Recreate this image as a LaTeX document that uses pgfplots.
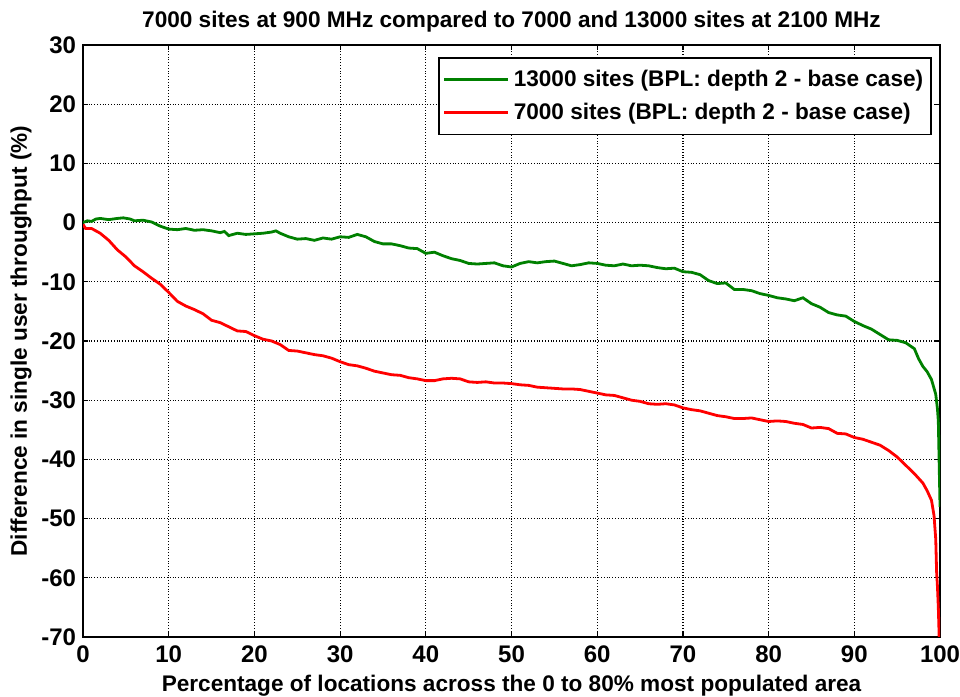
\documentclass[border=0pt]{standalone}
\usepackage{fontspec}
\setmainfont{Liberation Sans}
\usepackage{pgfplots}
\pgfplotsset{compat=1.18}

\definecolor{mlgreen}{rgb}{0,0.5,0}
\definecolor{mlred}{rgb}{1,0,0}

\begin{document}
\begin{tikzpicture}
\begin{axis}[
    scale only axis,
    width=428.5pt,
    height=296pt,
    xmin=0, xmax=100,
    ymin=-70, ymax=30,
    xtick={0,10,...,100},
    ytick={-70,-60,...,30},
    grid=major,
    major grid style={black, densely dotted, line width=0.6pt},
    tick align=inside,
    xtick pos=both, ytick pos=both,
    major tick length=2.5pt,
    axis line style={black, line width=0.8pt},
    tick style={black, line width=0.6pt},
    /pgf/number format/assume math mode=true,
    tick label style={font=\fontsize{12}{14}\selectfont\bfseries},
    xticklabel style={yshift=-1pt},
    label style={font=\fontsize{11.3}{13}\selectfont\bfseries},
    title style={font=\fontsize{11.3}{13}\selectfont\bfseries, yshift=-3pt},
    title={7000 sites at 900 MHz compared to 7000 and 13000 sites at 2100 MHz},
    xlabel={Percentage of locations across the 0 to 80\% most populated area},
    ylabel={Difference in single user throughput (\%)},
    xlabel style={yshift=1pt},
    ylabel style={yshift=-2pt},
    legend style={at={(0.9907,0.9797)}, anchor=north east,
        draw=black, line width=0.8pt, font=\fontsize{11.3}{13}\selectfont\bfseries,
        inner xsep=2pt, inner ysep=4pt, row sep=3pt},
    legend cell align=left,
    legend image code/.code={\draw[#1, line width=1.4pt] (0pt,0pt) -- (32pt,0pt);},
]
\coordinate (bl) at (rel axis cs:-0.0969,-0.0997);
\coordinate (tr) at (rel axis cs:1.0233,1.076);

\addplot[mlgreen, line width=1.4pt] coordinates {
(0,0) (0.5,0.3) (1,0.2) (1.5,0.6) (2,0.7) (3,0.5) (4,0.7) (4.7,0.8) (5.5,0.6) (6,0.3)
(7,0.4) (8,0.1) (9,-0.6) (10,-1.1) (11,-1.2) (12,-1.0) (13,-1.3) (14,-1.2) (15,-1.4)
(16,-1.7) (16.5,-1.5) (17,-2.2) (18,-1.8) (19,-2.0) (20,-1.9) (21,-1.8) (22,-1.6)
(22.5,-1.4) (23,-1.8) (24,-2.4) (25,-2.8) (26,-2.7) (27,-3.0) (28,-2.6) (29,-2.8)
(30,-2.4) (31,-2.5) (32,-2.0) (33,-2.4) (34,-3.2) (35,-3.6) (36,-3.6) (37,-3.9)
(38,-4.3) (39,-4.4) (40,-5.2) (41,-5.0) (42,-5.6) (43,-6.1) (44,-6.4) (45,-6.9)
(46,-7.0) (47,-6.9) (48,-6.8) (49,-7.3) (50,-7.5) (51,-6.9) (52,-6.6) (53,-6.8)
(54,-6.6) (55,-6.5) (56,-6.9) (57,-7.3) (58,-7.1) (59,-6.8) (60,-6.9) (61,-7.2)
(62,-7.3) (63,-7.0) (64,-7.3) (65,-7.2) (66,-7.3) (67,-7.6) (68,-7.8) (69,-7.7)
(70,-8.3) (71,-8.4) (72,-8.8) (73,-9.8) (74,-10.3) (75,-10.2) (76,-11.3) (77,-11.3)
(78,-11.5) (79,-12.0) (80,-12.3) (81,-12.7) (82,-12.9) (83,-13.2) (84,-12.7)
(85,-13.7) (86,-14.3) (87,-15.2) (88,-15.6) (89,-15.8) (90,-16.7) (91,-17.4)
(92,-18.0) (93,-18.9) (94,-19.8) (95,-19.9) (96,-20.3) (97,-21.3) (97.5,-23.0)
(98,-24.3) (98.5,-25.2) (99,-26.5) (99.5,-29.0) (99.7,-31.5) (99.8,-33.5) (100,-48)
};
\addlegendentry{13000 sites (BPL: depth 2 - base case)}

\addplot[mlred, line width=1.4pt] coordinates {
(0,-0.3) (0.3,-1.0) (1,-1.0) (2,-1.8) (3,-3.0) (4,-4.6) (5,-5.8) (6,-7.3) (7,-8.3)
(8,-9.4) (9,-10.4) (10,-11.8) (11,-13.3) (12,-14.1) (13,-14.7) (14,-15.4) (15,-16.5)
(16,-16.9) (17,-17.6) (18,-18.3) (19,-18.4) (20,-19.1) (21,-19.7) (22,-20.0)
(23,-20.6) (24,-21.6) (25,-21.7) (26,-22.0) (27,-22.3) (28,-22.5) (29,-22.9)
(30,-23.5) (31,-24.0) (32,-24.2) (33,-24.6) (34,-25.1) (35,-25.4) (36,-25.7)
(37,-25.8) (38,-26.2) (39,-26.4) (40,-26.7) (41,-26.7) (42,-26.4) (43,-26.3)
(44,-26.4) (45,-26.9) (46,-27.0) (47,-26.9) (48,-27.1) (49,-27.1) (50,-27.2)
(51,-27.4) (52,-27.5) (53,-27.8) (54,-27.9) (55,-28.0) (56,-28.1) (57,-28.1)
(58,-28.2) (59,-28.5) (60,-28.8) (61,-29.1) (62,-29.2) (63,-29.6) (64,-30.0)
(65,-30.2) (66,-30.6) (67,-30.7) (68,-30.6) (69,-30.8) (70,-31.3) (71,-31.6)
(72,-31.8) (73,-32.2) (74,-32.6) (75,-32.8) (76,-33.1) (77,-33.1) (78,-33.0)
(79,-33.3) (80,-33.6) (81,-33.5) (82,-33.6) (83,-33.9) (84,-34.1) (85,-34.7)
(86,-34.6) (87,-34.8) (88,-35.6) (89,-35.7) (90,-36.3) (91,-36.6) (92,-37.1)
(93,-37.6) (94,-38.5) (95,-39.6) (96,-41.0) (97,-42.4) (98,-44.0) (98.5,-45.3)
(99,-46.9) (99.3,-49.5) (99.5,-53.5) (99.6,-59) (99.7,-61.5) (99.8,-65) (99.9,-70)
};
\addlegendentry{7000 sites (BPL: depth 2 - base case)}
\end{axis}
\pgfresetboundingbox
\path (bl) rectangle (tr);
\end{tikzpicture}
\end{document}
